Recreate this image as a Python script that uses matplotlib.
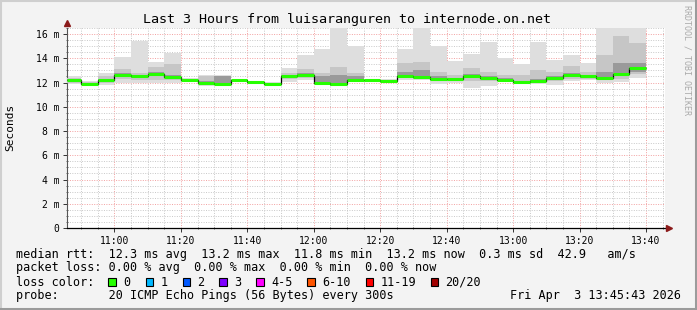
import numpy as np
import matplotlib
matplotlib.use("Agg")
import matplotlib.pyplot as plt
from matplotlib.patches import Rectangle

W, H = 697, 310
MONO = "DejaVu Sans Mono"

# ---- data (times in minutes since midnight, values in ms) ----
t_start = 10 * 60 + 45 + 43 / 60   # 10:45:43
t_end = 13 * 60 + 45 + 43 / 60     # 13:45:43
bar_edges = np.concatenate([[t_start], np.arange(650, 821, 5)])

median = [12.2, 11.9, 12.2, 12.65, 12.5, 12.7, 12.45, 12.2, 12.0, 11.85,
          12.2, 12.05, 11.9, 12.55, 12.65, 12.0, 11.85, 12.2, 12.2, 12.15,
          12.55, 12.45, 12.3, 12.3, 12.5, 12.4, 12.25, 12.05, 12.1, 12.4,
          12.6, 12.5, 12.4, 12.7, 13.2]
ping_max = [12.5, 12.1, 12.8, 14.1, 15.45, 13.7, 14.45, 12.4, 12.6, 12.6,
            12.3, 12.15, 12.05, 13.2, 14.25, 14.75, 17.0, 15.0, 12.3, 12.3,
            14.75, 17.0, 15.0, 13.8, 14.35, 15.35, 14.0, 13.5, 15.35, 13.85,
            14.3, 13.6, 17.0, 17.0, 17.0]
ping_min = [11.9, 11.8, 11.8, 12.0, 12.0, 11.95, 11.95, 12.05, 11.7, 11.8,
            12.05, 11.95, 11.8, 12.05, 12.2, 11.8, 11.7, 12.05, 12.1, 12.05,
            12.2, 12.2, 11.85, 11.95, 11.55, 11.7, 12.1, 11.9, 11.9, 11.8,
            12.1, 12.2, 12.0, 12.05, 12.4]
inner_hi = [12.4, 12.05, 12.5, 13.1, 12.8, 13.3, 13.5, 12.3, 12.5, 12.5,
            12.25, 12.1, 12.0, 12.8, 13.1, 12.8, 13.3, 12.8, 12.25, 12.2,
            13.6, 13.7, 12.85, 12.6, 13.2, 12.9, 12.6, 12.6, 13.0, 12.9,
            13.35, 12.9, 14.25, 15.8, 15.3]
inner_lo = [12.0, 11.85, 11.95, 12.3, 12.2, 12.2, 12.2, 12.1, 11.85, 11.82,
            12.1, 12.0, 11.85, 12.3, 12.4, 11.9, 11.8, 12.1, 12.15, 12.1,
            12.35, 12.3, 12.1, 12.1, 12.1, 12.1, 12.15, 12.0, 12.0, 12.1,
            12.3, 12.3, 12.2, 12.3, 12.7]
core_hi = [12.3, 12.0, 12.3, 12.8, 12.6, 12.85, 12.6, 12.25, 12.1, 12.5,
           12.2, 12.07, 11.95, 12.65, 12.8, 12.5, 12.6, 12.5, 12.2, 12.17,
           12.9, 13.0, 12.5, 12.4, 12.7, 12.55, 12.35, 12.15, 12.3, 12.55,
           12.8, 12.6, 12.85, 13.6, 13.6]
core_lo = [12.1, 11.87, 12.1, 12.5, 12.4, 12.55, 12.35, 12.15, 11.95, 11.83,
           12.15, 12.02, 11.87, 12.45, 12.55, 11.9, 11.75, 12.15, 12.17, 12.12,
           12.45, 12.35, 12.2, 12.2, 12.4, 12.3, 12.2, 12.0, 12.05, 12.3,
           12.5, 12.4, 12.3, 12.5, 12.9]

x_tick_labels = ["11:00", "11:20", "11:40", "12:00", "12:20", "12:40",
                 "13:00", "13:20", "13:40"]
y_tick_values = [0, 2, 4, 6, 8, 10, 12, 14, 16]
y_tick_labels = ["0", "2 m", "4 m", "6 m", "8 m", "10 m", "12 m", "14 m", "16 m"]

loss_labels = ["0", "1", "2", "3", "4-5", "6-10", "11-19", "20/20"]
loss_colors = ["#26ff00", "#00b8ff", "#0059ff", "#7e00ff", "#ff00ff",
               "#ff5500", "#ff0000", "#a10000"]

title = "Last 3 Hours from luisaranguren to internode.on.net"
rtt_line = "median rtt:  12.3 ms avg  13.2 ms max  11.8 ms min  13.2 ms now  0.3 ms sd  42.9   am/s"
loss_line = "packet loss: 0.00 % avg  0.00 % max  0.00 % min  0.00 % now"
probe_line = "probe:       20 ICMP Echo Pings (56 Bytes) every 300s"
date_text = "Fri Apr  3 13:45:43 2026"


def fx(x):
    return x / W


def fy(y):
    return 1 - y / H


fig = plt.figure(figsize=(W / 100, H / 100), dpi=100, facecolor="#f3f3f3")
ax = fig.add_axes([fx(67), 82 / H, 598 / W, 200 / H])
ax.set_facecolor("white")

left = bar_edges[:-1]
widths = np.diff(bar_edges)
lo = np.array(ping_min)
ax.bar(left, np.array(ping_max) - lo, bottom=lo, width=widths, align="edge",
       color="#dedede", linewidth=0, zorder=2)
ax.bar(left, np.array(inner_hi) - np.array(inner_lo), bottom=inner_lo,
       width=widths, align="edge", color="#c6c6c6", linewidth=0, zorder=3)
ax.bar(left, np.array(core_hi) - np.array(core_lo), bottom=core_lo,
       width=widths, align="edge", color="#9a9a9a", linewidth=0, zorder=4)

ax.stairs(median, bar_edges, baseline=None, color="black", lw=0.9, zorder=5)
ax.hlines(median, bar_edges[:-1], bar_edges[1:], color=loss_colors[0],
          lw=2.2, zorder=6)

ax.set_xlim(t_start, t_end)
ax.set_ylim(0, 16.5)

xt = [int(s[:2]) * 60 + int(s[3:]) for s in x_tick_labels]
ax.set_xticks(xt)
ax.set_xticklabels(x_tick_labels, family=MONO, fontsize=7)
ax.set_xticks(np.arange(650, 826, 5), minor=True)
ax.set_yticks(y_tick_values)
ax.set_yticklabels(y_tick_labels, family=MONO, fontsize=7)
ax.set_yticks(np.arange(0, 16.6, 0.5), minor=True)

ax.grid(which="minor", color="#c8c8c8", lw=0.7, linestyle=(0, (1, 1.5)), zorder=1)
ax.grid(which="major", color="#f2a0a0", lw=0.7, linestyle=(0, (1, 1.5)), zorder=1)
ax.set_axisbelow(True)

ax.tick_params(which="major", length=3, width=0.7, color="#333333", pad=2.5)
ax.tick_params(which="minor", length=1.5, width=0.6, color="#555555",
               direction="inout")
for s in ("top", "right"):
    ax.spines[s].set_visible(False)
ax.spines["left"].set_color("#555555")
ax.spines["bottom"].set_color("black")
ax.spines["left"].set_linewidth(0.8)
ax.spines["bottom"].set_linewidth(0.9)

# axis arrows
ax.plot([0], [1.025], marker="^", color="#8b1a1a", ms=4, transform=ax.transAxes,
        clip_on=False, zorder=7)
ax.plot([1.006], [0], marker=">", color="#8b1a1a", ms=4, transform=ax.transAxes,
        clip_on=False, zorder=7)

# texts
fig.text(fx(347), fy(19), title, family=MONO, fontsize=9.6, ha="center", va="center")
fig.text(fx(10), fy(127), "Seconds", family=MONO, fontsize=8, rotation=90,
         ha="center", va="center")
fig.text(fx(687), fy(60), "RRDTOOL / TOBI OETIKER", family=MONO, fontsize=6,
         rotation=270, ha="center", va="center", color="#aaaaaa")

fig.text(fx(16), fy(254.5), rtt_line, family=MONO, fontsize=8.5, va="center")
fig.text(fx(16), fy(268), loss_line, family=MONO, fontsize=8.5, va="center")
fig.text(fx(16), fy(282), "loss color:", family=MONO, fontsize=8.5, va="center")
box_x = [108, 145.5, 182.5, 219, 256, 307, 365.5, 430.5]
for bx, lab, col in zip(box_x, loss_labels, loss_colors):
    fig.patches.append(Rectangle((fx(bx), fy(286)), 7.5 / W, 8 / H,
                                 transform=fig.transFigure, facecolor=col,
                                 edgecolor="black", lw=0.8))
    fig.text(fx(bx + 15), fy(282), lab, family=MONO, fontsize=8.5, va="center")
fig.text(fx(16), fy(296), probe_line, family=MONO, fontsize=8.5, va="center")
fig.text(fx(681), fy(296), date_text, family=MONO, fontsize=8.5, va="center",
         ha="right")

# 3d-ish frame
fig.add_artist(plt.Line2D([0, 1], [fy(0.5), fy(0.5)], color="#cfcfcf", lw=1.5,
                          transform=fig.transFigure))
fig.add_artist(plt.Line2D([fx(0.5), fx(0.5)], [0, 1], color="#cfcfcf", lw=1.5,
                          transform=fig.transFigure))
fig.add_artist(plt.Line2D([0, 1], [fy(308.5), fy(308.5)], color="#9b9b9b", lw=2.2,
                          transform=fig.transFigure))
fig.add_artist(plt.Line2D([fx(695.5), fx(695.5)], [0, 1], color="#9b9b9b", lw=2.2,
                          transform=fig.transFigure))

fig.savefig("out.png", dpi=100, facecolor=fig.get_facecolor())
